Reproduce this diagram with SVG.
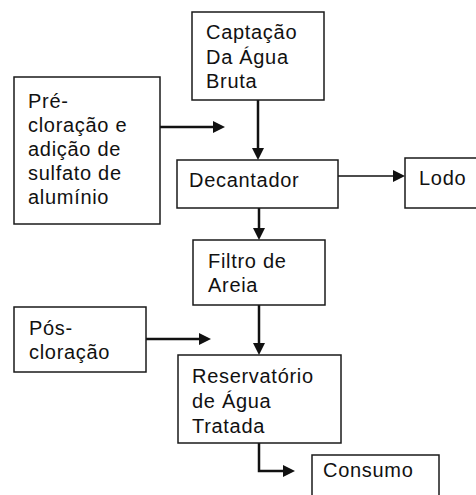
<svg xmlns="http://www.w3.org/2000/svg" width="476" height="495" viewBox="0 0 476 495">
<style>
.box{fill:#fff;stroke:#1a1a1a;stroke-width:1.5}
.t{font-family:"Liberation Sans",Arial,sans-serif;font-size:20px;letter-spacing:0.7px;fill:#111}
.c{fill:none;stroke:#111;stroke-width:2.5}
.thin{stroke-width:1.6}
</style>
<defs>
<marker id="ah" markerUnits="userSpaceOnUse" markerWidth="13" markerHeight="13" refX="8" refY="6" orient="auto">
<path d="M0,0 L12,6 L0,12 Z" fill="#111"/>
</marker>
</defs>
<rect width="476" height="495" fill="#fff"/>
<g id="connectors">
<path class="c" d="M258,100 V156" marker-end="url(#ah)"/>
<path class="c" d="M160,127 H221" marker-end="url(#ah)"/>
<path class="c thin" d="M338,176 H401" marker-end="url(#ah)"/>
<path class="c" d="M259,208 V236" marker-end="url(#ah)"/>
<path class="c" d="M146,339 H207" marker-end="url(#ah)"/>
<path class="c" d="M259,305 V351" marker-end="url(#ah)"/>
<path class="c" d="M259,443 V471 H291" marker-end="url(#ah)"/>
</g>
<g id="captacao">
<rect class="box" x="192" y="12" width="132" height="88"/>
<text class="t" x="206" y="39">Captação</text>
<text class="t" x="206" y="64">Da Água</text>
<text class="t" x="206" y="88">Bruta</text>
</g>
<g id="precloracao">
<rect class="box" x="14" y="77" width="146" height="147"/>
<text class="t" x="28" y="108">Pré-</text>
<text class="t" x="28" y="132">cloração e</text>
<text class="t" x="28" y="156">adição de</text>
<text class="t" x="28" y="180">sulfato de</text>
<text class="t" x="28" y="204">alumínio</text>
</g>
<g id="decantador">
<rect class="box" x="177" y="160" width="161" height="48"/>
<text class="t" x="189" y="187">Decantador</text>
</g>
<g id="lodo">
<rect class="box" x="405" y="158" width="80" height="50"/>
<text class="t" x="419" y="185">Lodo</text>
</g>
<g id="filtro">
<rect class="box" x="193" y="240" width="132" height="65"/>
<text class="t" x="208" y="268">Filtro de</text>
<text class="t" x="208" y="292">Areia</text>
</g>
<g id="poscloracao">
<rect class="box" x="14" y="307" width="132" height="65"/>
<text class="t" x="29" y="335">Pós-</text>
<text class="t" x="29" y="359">cloração</text>
</g>
<g id="reservatorio">
<rect class="box" x="178" y="355" width="163" height="88"/>
<text class="t" x="192" y="383">Reservatório</text>
<text class="t" x="192" y="408">de Água</text>
<text class="t" x="192" y="433">Tratada</text>
</g>
<g id="consumo">
<rect class="box" x="312" y="455" width="127" height="50"/>
<text class="t" x="323" y="477">Consumo</text>
</g>
</svg>
